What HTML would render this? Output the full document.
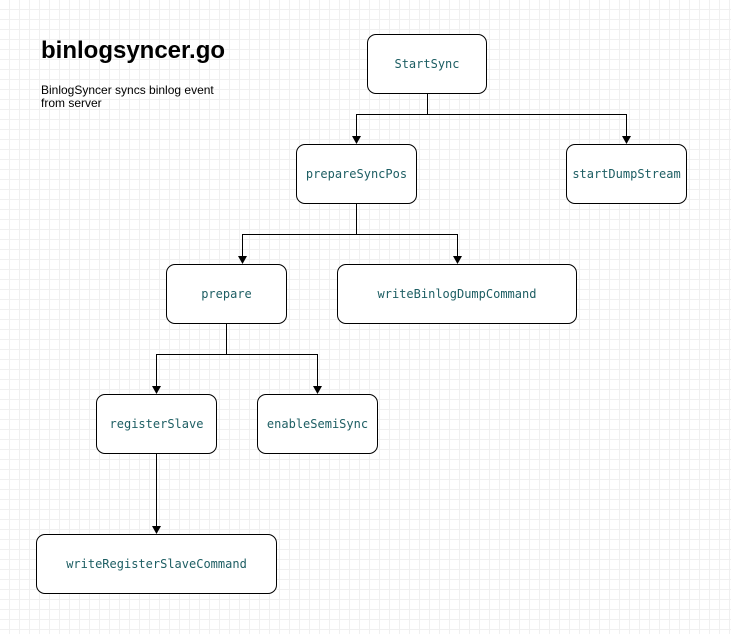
<!DOCTYPE html>
<html><head><style>
body{margin:0;width:731px;height:634px;overflow:hidden;background:#fff;
background-image:linear-gradient(#f0f0f0 1px,transparent 1px),linear-gradient(90deg,#f0f0f0 1px,transparent 1px);
background-size:10px 10px;background-position:-1px -1px;font-family:"Liberation Sans",sans-serif;position:relative}
.b{position:absolute;box-sizing:border-box;border:1px solid #000;border-radius:9px;background:#fff;display:flex;align-items:center;justify-content:center;font-family:"DejaVu Sans Mono","Liberation Mono",monospace;font-size:12px;color:#1d5e63}
h1{position:absolute;left:41px;top:37px;margin:0;font-size:24px;font-weight:bold}
p{position:absolute;left:41px;top:84px;margin:0;font-size:12px;line-height:13px}
svg{position:absolute;left:0;top:0}
</style></head><body>
<h1>binlogsyncer.go</h1>
<p>BinlogSyncer syncs binlog event<br>from server</p>
<svg width="731" height="634">
<g stroke="#000" fill="none" stroke-width="1">
<path d="M427.5 94V114.5H356.5V136M427.5 114.5H626.5V136"/>
<path d="M356.5 204V234.5H242.5V256M356.5 234.5H457.5V256"/>
<path d="M226.5 324V354.5H156.5V386M226.5 354.5H317.5V386"/>
<path d="M156.5 454V526"/>
</g>
<g fill="#000">
<path d="M352 136L361 136L356.5 144Z"/><path d="M622 136L631 136L626.5 144Z"/>
<path d="M238 256L247 256L242.5 264Z"/><path d="M453 256L462 256L457.5 264Z"/>
<path d="M152 386L161 386L156.5 394Z"/><path d="M313 386L322 386L317.5 394Z"/>
<path d="M152 526L161 526L156.5 534Z"/>
</g></svg>
<div class="b" style="left:367px;top:34px;width:120px;height:60px">StartSync</div>
<div class="b" style="left:296px;top:144px;width:121px;height:60px">prepareSyncPos</div>
<div class="b" style="left:566px;top:144px;width:121px;height:60px">startDumpStream</div>
<div class="b" style="left:166px;top:264px;width:121px;height:60px">prepare</div>
<div class="b" style="left:337px;top:264px;width:240px;height:60px">writeBinlogDumpCommand</div>
<div class="b" style="left:96px;top:394px;width:121px;height:60px">registerSlave</div>
<div class="b" style="left:257px;top:394px;width:121px;height:60px">enableSemiSync</div>
<div class="b" style="left:36px;top:534px;width:241px;height:60px">writeRegisterSlaveCommand</div>
</body></html>
